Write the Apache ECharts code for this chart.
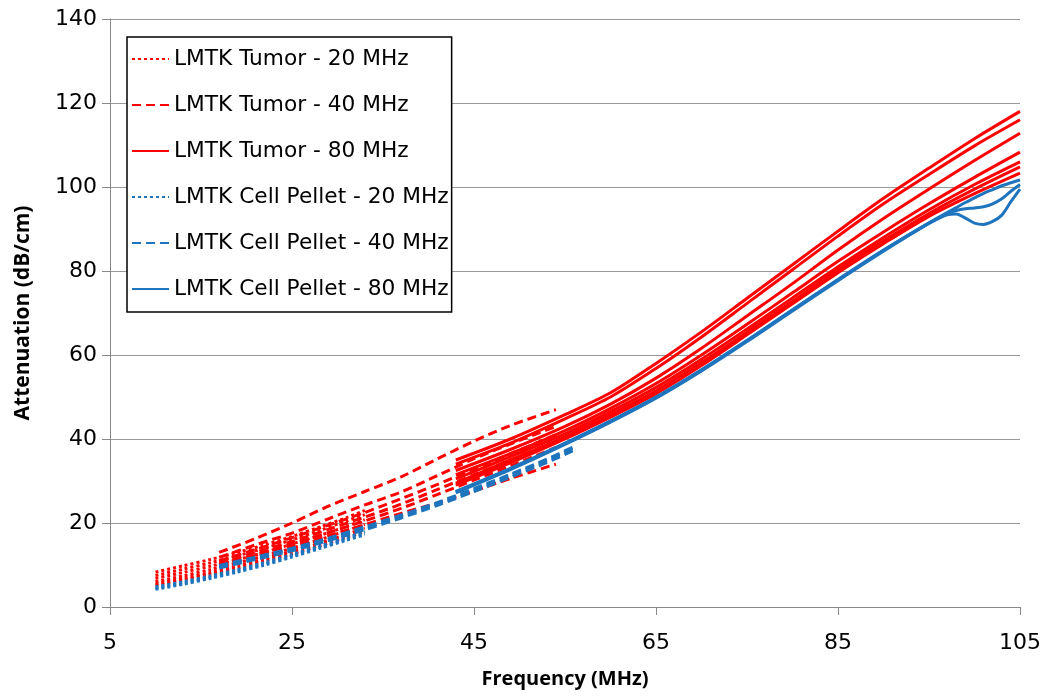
<!DOCTYPE html>
<html><head><meta charset="utf-8">
<script src="https://cdn.jsdelivr.net/npm/echarts@6/dist/echarts.min.js"></script>
<style>html,body{margin:0;padding:0;background:#fff}#c{width:1045px;height:698px}</style>
</head><body><div id="c"></div>
<script>
// ---- data ----
const xTicks = [5, 25, 45, 65, 85, 105];
const yTicks = [0, 20, 40, 60, 80, 100, 120, 140];
const legendNames = ['LMTK Tumor - 20 MHz','LMTK Tumor - 40 MHz','LMTK Tumor - 80 MHz','LMTK Cell Pellet - 20 MHz','LMTK Cell Pellet - 40 MHz','LMTK Cell Pellet - 80 MHz'];

const freq20 = [10, 13, 16, 19, 22, 25, 28, 31, 33];
const tumor20 = [
  [8.3, 9.8, 11.3, 13, 14.8, 16.8, 19, 21.3, 23],
  [7.5, 9, 10.5, 12.2, 14, 16, 18.2, 20.5, 22],
  [6.8, 8.2, 9.7, 11.3, 13, 15, 17, 19.2, 20.8],
  [6, 7.4, 8.9, 10.5, 12.2, 14, 16, 18.2, 19.7],
  [5.5, 6.8, 8.2, 9.8, 11.5, 13.3, 15.2, 17.3, 18.8],
  [5.2, 6.4, 7.8, 9.3, 11, 12.7, 14.6, 16.6, 18]
];
const pellet20 = [
  [4.5, 5.7, 7.1, 8.6, 10.3, 12.2, 14.2, 16.2, 17.6],
  [4.2, 5.4, 6.8, 8.3, 10, 11.9, 13.9, 15.9, 17.2],
  [4.8, 6, 7.4, 8.9, 10.6, 12.5, 14.5, 16.5, 18]
];

const freq40 = [17, 21, 25, 29, 33, 37, 41, 45, 49, 54];
const tumor40 = [
  [13, 16.3, 20, 24, 27.5, 31, 35.3, 39.5, 43.2, 47],
  [11.8, 14.8, 17.6, 21, 24.3, 27.4, 31.3, 35.3, 38.8, 43],
  [11, 13.7, 16.5, 19.5, 22.5, 25.8, 29.2, 32.8, 36.5, 41],
  [10.5, 13, 15.6, 18.5, 21.4, 24.5, 28, 31.5, 35, 39.5],
  [10, 12.4, 15, 17.7, 20.5, 23.5, 26.8, 30.2, 33.6, 38],
  [9.8, 12, 14.4, 17, 19.6, 22.3, 24.8, 27.6, 30.6, 34]
];
const freqP40 = [17, 21, 25, 29, 33, 37, 41, 45, 49, 53, 56];
const pellet40 = [
  [9.6, 11.6, 13.7, 16.1, 18.8, 21.6, 24.6, 27.9, 31.3, 34.9, 37.9],
  [9.3, 11.3, 13.4, 15.8, 18.4, 21.2, 24.2, 27.5, 30.9, 34.4, 37.3],
  [9.9, 11.9, 14, 16.4, 19.1, 21.9, 24.9, 28.2, 31.6, 35.2, 38.2]
];

const freq80 = [43, 49, 55, 60, 65, 70, 75, 80, 85, 90, 95, 100, 105];
const tumor80 = [
  [35, 40, 45.8, 51, 58, 65.5, 73.5, 81.5, 89.5, 97.3, 104.5, 111.5, 118],
  [34, 39, 44.8, 50, 56.8, 64.3, 72.3, 80.3, 88.3, 96, 103, 109.8, 116],
  [32.5, 37.5, 43, 48.3, 54.5, 61.6, 69.3, 77, 85, 92.5, 99.5, 106.3, 112.8],
  [31.5, 36.5, 42, 47.3, 53.2, 60, 67.3, 74.8, 82.3, 89.3, 96, 102.3, 108.3],
  [30.5, 35.8, 41.2, 46.5, 52.3, 59, 66.2, 73.6, 81, 88, 94.6, 100.6, 106],
  [29.5, 35, 40.5, 45.8, 51.5, 58.2, 65.4, 72.8, 80.3, 87.2, 93.7, 99.5, 104.8],
  [29, 34.3, 40, 45.2, 50.8, 57.5, 64.8, 72.2, 79.6, 86.5, 93, 98.4, 103.3]
];
const freqP80 = [43, 49, 55, 60, 65, 70, 75, 80, 85, 90, 95, 97, 98, 99, 100, 101, 102, 103, 104, 105];
const pellet80 = [
  [27.5, 33, 39, 44.3, 50, 56.5, 63.5, 70.8, 78, 85, 91.5, 93.9, 95.1, 96.3, 97.4, 98.5, 99.4, 100.3, 101, 101.7],
  [27.2, 32.7, 38.7, 44, 49.7, 56.2, 63.2, 70.5, 77.7, 84.7, 91.3, 93.4, 93.6, 92.6, 91.4, 91.1, 91.8, 93.3, 96.5, 99.5],
  [27.4, 32.9, 38.9, 44.2, 49.9, 56.4, 63.4, 70.7, 77.9, 84.9, 91.4, 93.7, 94.4, 94.8, 95, 95.3, 96, 97.2, 99, 100.6]
];

// ---- styles ----
const RED = '#FF0000';
const BLUE = '#1F74BE';
const DOT = [3, 3];
const DASH = [9, 5];

function mk(name, xs, ys, color, dash, z) {
  return {
    name: name, type: 'line', symbol: 'none', smooth: 0.3,
    z: z, silent: true, animation: false,
    lineStyle: { color: color, width: 3, type: dash || 'solid', cap: 'butt' },
    itemStyle: { color: color },
    data: xs.map((x, i) => [x, ys[i]])
  };
}
const series = [];
tumor20.forEach(ys => series.push(mk(legendNames[0], freq20, ys, RED, DOT, 2)));
tumor40.forEach(ys => series.push(mk(legendNames[1], freq40, ys, RED, DASH, 2)));
tumor80.forEach(ys => series.push(mk(legendNames[2], freq80, ys, RED, 'solid', 2)));
pellet20.forEach(ys => series.push(mk(legendNames[3], freq20, ys, BLUE, DOT, 3)));
pellet40.forEach(ys => series.push(mk(legendNames[4], freqP40, ys, BLUE, DASH, 3)));
pellet80.forEach(ys => series.push(mk(legendNames[5], freqP80, ys, BLUE, 'solid', 3)));

const chart = echarts.init(document.getElementById('c'), null, { renderer: 'canvas' });
chart.setOption({
  animation: false,
  backgroundColor: '#fff',
  grid: { left: 110, right: 25, top: 19, bottom: 91, containLabel: false },
  legend: {
    data: legendNames,
    orient: 'vertical', left: 127, top: 37,
    itemWidth: 37, itemHeight: 20, itemGap: 24, itemTextGap: 5,
    padding: [11, 3, 12, 4],
    borderColor: '#000', borderWidth: 1.5,
    backgroundColor: '#fff',
    selectedMode: false,
    itemStyle: { opacity: 0 },
    textStyle: { fontFamily: 'DejaVu Sans', fontSize: 21.7, color: '#000', lineHeight: 20 }
  },
  xAxis: {
    type: 'value', min: 5, max: 105, interval: 20,
    name: 'Frequency (MHz)', nameLocation: 'middle', nameGap: 62,
    nameTextStyle: { fontFamily: 'Open Sans', fontWeight: 'bold', fontSize: 20, color: '#000' },
    axisLine: { show: true, lineStyle: { color: '#888', width: 1 } },
    axisTick: { show: true, length: 8, inside: false, lineStyle: { color: '#888' } },
    axisLabel: { margin: 25, fontFamily: 'DejaVu Sans', fontSize: 22, color: '#000',
      formatter: v => xTicks.indexOf(v) >= 0 ? String(v) : '' },
    splitLine: { show: false }
  },
  yAxis: {
    type: 'value', min: 0, max: 140, interval: 20,
    name: 'Attenuation (dB/cm)', nameLocation: 'middle', nameGap: 76, nameRotate: 90,
    nameTextStyle: { fontFamily: 'Open Sans', fontWeight: 'bold', fontSize: 21, color: '#000' },
    axisLine: { show: true, lineStyle: { color: '#888', width: 1 } },
    axisTick: { show: true, length: 8, lineStyle: { color: '#888' } },
    axisLabel: { margin: 13, fontFamily: 'DejaVu Sans', fontSize: 22, color: '#000',
      formatter: v => yTicks.indexOf(v) >= 0 ? String(v) : '' },
    splitLine: { show: true, lineStyle: { color: '#999', width: 1 } }
  },
  series: series
});
</script>
</body></html>
